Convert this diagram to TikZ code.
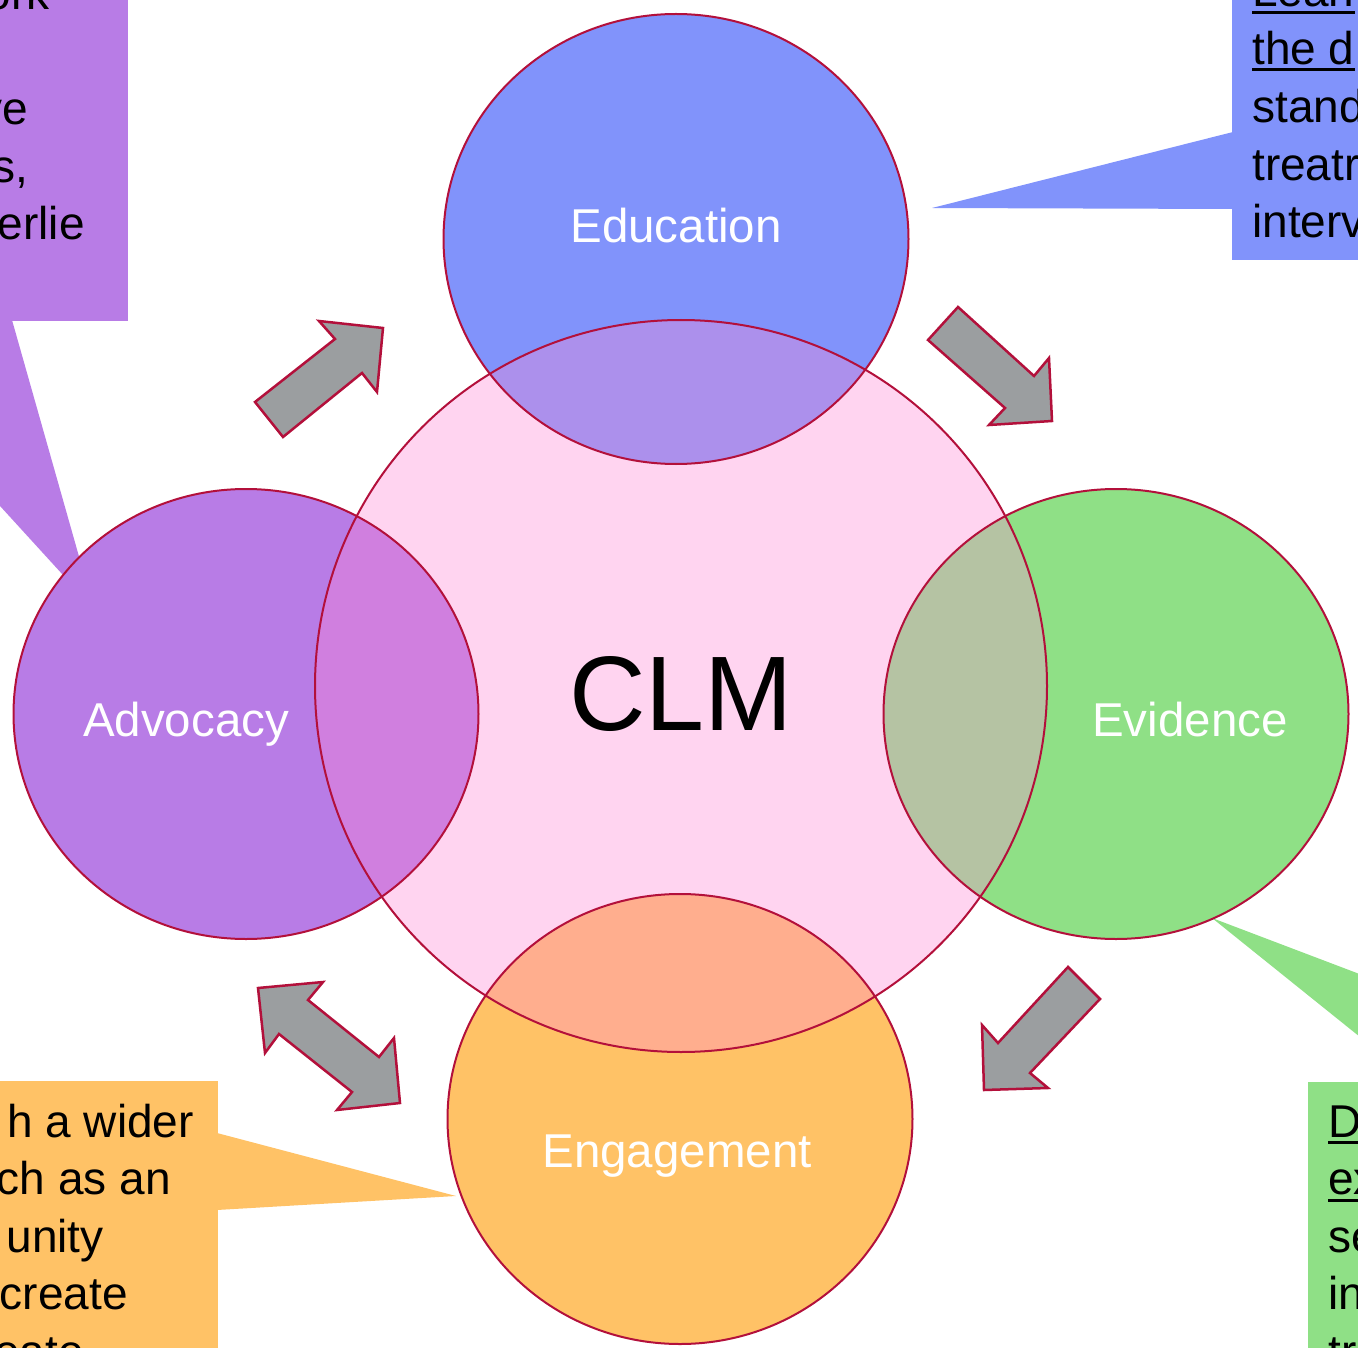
\documentclass[tikz,border=0pt]{standalone}
\usepackage{fontspec}
\setmainfont{Liberation Sans}
\definecolor{educ}{HTML}{8193FB}
\definecolor{evid}{HTML}{8FE086}
\definecolor{advo}{HTML}{B87CE6}
\definecolor{enga}{HTML}{FFC266}
\definecolor{clmc}{HTML}{FFD4F0}
\definecolor{educx}{HTML}{AC90EC}
\definecolor{evidx}{HTML}{B5C3A3}
\definecolor{advox}{HTML}{D07FDF}
\definecolor{engax}{HTML}{FFAE8E}
\definecolor{rim}{HTML}{B3103B}
\definecolor{arrg}{HTML}{9B9EA0}
\newcommand\myul[1]{\leavevmode\setbox0\hbox{#1}\rlap{\rule[-7pt]{\wd0}{3pt}}\box0}
\tikzset{
  ring/.style={draw=rim, line width=2pt},
  blockarrow/.style={fill=arrg, draw=rim, line width=2.5pt, line join=miter},
  calltext/.style={font=\fontsize{46}{57.5}\selectfont, inner sep=0pt, text=black},
  circlabel/.style={font=\fontsize{47.5}{56}\selectfont, text=white, inner sep=0pt, anchor=base},
}
\begin{document}
\begin{tikzpicture}[x=1pt,y=-1pt]
\useasboundingbox (0,0) rectangle (1358,1348);
% callout boxes
\fill[advo] (-10,-10) rectangle (128,321);
\fill[advo] (12,320) -- (80,560) -- (63,575) -- (-10,495) -- (-10,320) -- cycle;
\fill[educ] (1232,-10) rectangle (1370,260);
\fill[educ] (1233,132) -- (932,208) -- (1233,209) -- cycle;
\fill[evid] (1308,1082) rectangle (1370,1360);
\fill[evid] (1212,918) -- (1370,978) -- (1370,1045) -- cycle;
\fill[enga] (-10,1081) rectangle (218,1360);
\fill[enga] (217,1133) -- (456,1196) -- (217,1210) -- cycle;
% circles
\fill[educ] (676,239) ellipse [x radius=232.5, y radius=225];
\fill[evid] (1116,714) ellipse [x radius=232.5, y radius=225];
\fill[advo] (246,714) ellipse [x radius=232.5, y radius=225];
\fill[enga] (680,1119) ellipse [x radius=232.5, y radius=225];
\fill[clmc] (681,686) circle [radius=366];
\begin{scope}
\clip (681,686) circle [radius=366];
\fill[educx] (676,239) ellipse [x radius=232.5, y radius=225];
\fill[evidx] (1116,714) ellipse [x radius=232.5, y radius=225];
\fill[advox] (246,714) ellipse [x radius=232.5, y radius=225];
\fill[engax] (680,1119) ellipse [x radius=232.5, y radius=225];
\end{scope}
\draw[ring] (676,239) ellipse [x radius=232.5, y radius=225];
\draw[ring] (1116,714) ellipse [x radius=232.5, y radius=225];
\draw[ring] (246,714) ellipse [x radius=232.5, y radius=225];
\draw[ring] (680,1119) ellipse [x radius=232.5, y radius=225];
\draw[ring] (681,686) circle [radius=366];
% block arrows
\draw[blockarrow] (255,402) -- (335,339) -- (319,321) -- (383,328) -- (377,392) -- (362,373) -- (283,437) -- cycle;
\draw[blockarrow] (928,340) -- (958,307) -- (1034,376) -- (1049,358) -- (1052,421) -- (989,425) -- (1005,408) -- cycle;
\draw[blockarrow] (258,988) -- (323,982) -- (308,1000) -- (379,1057) -- (394,1038) -- (400,1103) -- (337,1110) -- (352,1092) -- (279,1034) -- (265,1053) -- cycle;
\draw[blockarrow] (1068,967) -- (1100,999) -- (1030,1073) -- (1048,1088) -- (984,1090) -- (982,1025) -- (998,1043) -- cycle;
% labels
\node[circlabel] (edul) at (676,243) {Education};
\node[circlabel] (evil) at (1190,736) {Evidence};
\node[circlabel] (advl) at (186,736) {Advocacy};
\node[circlabel] (engl) at (677,1167) {Engagement};
\node[font=\fontsize{106}{110}\selectfont, inner sep=0pt, anchor=base] (clml) at (681,730) {CLM};
% callout texts
\node[calltext, anchor=base east] (a1) at (50,10) {ork};
\node[calltext, anchor=base east] (a2) at (28,125) {ve};
\node[calltext, anchor=base east] (a3) at (28,182.5) {s,};
\node[calltext, anchor=base east] (a4) at (85,240) {erlie};
\node[calltext, anchor=base west] (b1) at (1252,7) {\myul{Lean}};
\node[calltext, anchor=base west] (b2) at (1252,64.5) {\myul{the d}};
\node[calltext, anchor=base west] (b3) at (1252,123) {stand};
\node[calltext, anchor=base west] (b4) at (1252,180.5) {treatr};
\node[calltext, anchor=base west] (b5) at (1252,238) {interv};
\node[calltext, anchor=base east] (c1) at (194,1137) {h a wider};
\node[calltext, anchor=base east] (c2) at (171,1194.5) {ch as an};
\node[calltext, anchor=base east] (c3) at (104,1252) {unity};
\node[calltext, anchor=base east] (c4) at (128,1309.5) {create};
\node[calltext, anchor=base east] (c5) at (84,1367) {ceate};
\node[calltext, anchor=base west] (d1) at (1328,1137) {\myul{D}};
\node[calltext, anchor=base west] (d2) at (1328,1194.5) {\myul{ex}};
\node[calltext, anchor=base west] (d3) at (1328,1252) {se};
\node[calltext, anchor=base west] (d4) at (1328,1309.5) {in};
\node[calltext, anchor=base west] (d5) at (1328,1367) {tr};
\end{tikzpicture}
\end{document}
